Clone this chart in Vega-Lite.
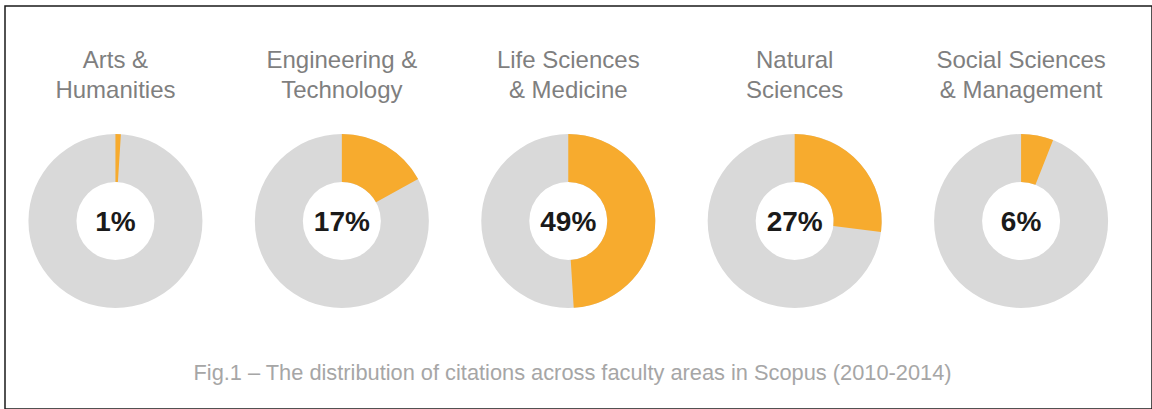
{
  "$schema": "https://vega.github.io/schema/vega-lite/v6.json",
  "width": 1152,
  "height": 409,
  "autosize": {"type": "fit", "contains": "padding"},
  "padding": {"left": 5, "top": 6, "right": 0, "bottom": 0},
  "background": "white",
  "config": {"view": {"stroke": "#1a1a1a", "strokeWidth": 1.5}, "font": "Liberation Sans"},
  "data": {
    "values": [
      {"area": "Arts & Humanities", "title": "Arts &\nHumanities", "share": 0.01},
      {"area": "Engineering & Technology", "title": "Engineering &\nTechnology", "share": 0.17},
      {"area": "Life Sciences & Medicine", "title": "Life Sciences\n& Medicine", "share": 0.49},
      {"area": "Natural Sciences", "title": "Natural\nSciences", "share": 0.27},
      {"area": "Social Sciences & Management", "title": "Social Sciences\n& Management", "share": 0.06}
    ]
  },
  "encoding": {
    "x": {"field": "area", "type": "nominal", "sort": null, "scale": {"type": "point", "padding": 0.533, "align": 0.4576}, "axis": null}
  },
  "layer": [
    {
      "mark": {"type": "arc", "innerRadius": 39, "outerRadius": 87, "color": "#d9d9d9"},
      "encoding": {
        "y": {"datum": 53.35, "type": "quantitative", "scale": {"domain": [0, 100], "reverse": true}, "axis": null},
        "theta": {"datum": 1, "type": "quantitative", "scale": {"domain": [0, 1]}},
        "theta2": {"datum": 0}
      }
    },
    {
      "mark": {"type": "arc", "innerRadius": 39, "outerRadius": 87, "color": "#f7ab2e"},
      "encoding": {
        "y": {"datum": 53.35, "type": "quantitative"},
        "theta": {"field": "share", "type": "quantitative", "stack": null, "scale": {"domain": [0, 1]}},
        "theta2": {"datum": 0}
      }
    },
    {
      "mark": {"type": "text", "fontSize": 28, "fontWeight": "bold", "color": "#1a1a1a", "baseline": "middle", "align": "center"},
      "encoding": {
        "y": {"datum": 53.85, "type": "quantitative"},
        "text": {"field": "share", "type": "quantitative", "format": ".0%"}
      }
    },
    {
      "mark": {"type": "text", "fontSize": 24, "color": "#7f7f7f", "baseline": "top", "align": "center", "lineBreak": "\n", "lineHeight": 30},
      "encoding": {
        "y": {"datum": 10.6, "type": "quantitative"},
        "text": {"field": "title", "type": "nominal"}
      }
    },
    {
      "data": {"values": [{"caption": "Fig.1 – The distribution of citations across faculty areas in Scopus (2010-2014)"}]},
      "mark": {"type": "text", "fontSize": 21.8, "color": "#a6a6a6", "baseline": "middle", "align": "center", "dx": -6},
      "encoding": {
        "x": null,
        "y": {"datum": 91.07, "type": "quantitative"},
        "text": {"field": "caption", "type": "nominal"}
      }
    }
  ]
}
